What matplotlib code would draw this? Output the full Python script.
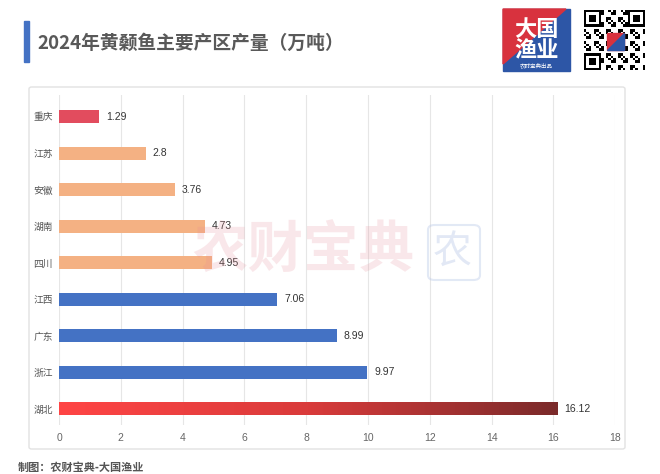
import numpy as np
import matplotlib
matplotlib.use('Agg')
import matplotlib.pyplot as plt
from matplotlib.patches import Rectangle, FancyBboxPatch, Polygon
from matplotlib.colors import LinearSegmentedColormap

plt.rcParams['font.family'] = ['Noto Sans CJK SC', 'DejaVu Sans']

# ---------------- data ----------------
categories = ['湖北', '浙江', '广东', '江西', '四川', '湖南', '安徽', '江苏', '重庆']
values = [16.12, 9.97, 8.99, 7.06, 4.95, 4.73, 3.76, 2.8, 1.29]
value_labels = ['16.12', '9.97', '8.99', '7.06', '4.95', '4.73', '3.76', '2.8', '1.29']
x_ticks = [0, 2, 4, 6, 8, 10, 12, 14, 16, 18]
title = '2024年黄颡鱼主要产区产量（万吨）'
source = '制图：农财宝典-大国渔业'
watermark = '农财宝典'

# ---------------- styles ----------------
RED = '#e24c5e'
ORANGE = '#f4b183'
BLUE = '#4472c4'
bar_colors = ['#ff4545', BLUE, BLUE, BLUE, ORANGE, ORANGE, ORANGE, ORANGE, RED]

W, H = 660, 474
fig = plt.figure(figsize=(6.6, 4.74), dpi=100)
fig.patch.set_facecolor('white')


def fx(px):
    return px / W


def fy(py):
    return 1 - py / H


# chart frame
fig.patches.append(FancyBboxPatch((fx(29), fy(449)), fx(625) - fx(29), fy(87) - fy(449),
                                  boxstyle='round,pad=0,rounding_size=0.004',
                                  transform=fig.transFigure, fc='white', ec='#e2e2e2', lw=1.0, zorder=-5))

# title decoration
fig.patches.append(Rectangle((fx(24), fy(62)), fx(5), 41 / H, transform=fig.transFigure,
                             color=BLUE, zorder=1))
fig.text(fx(37), fy(43), title, fontsize=13.5, fontweight='bold', color='#595959', va='center', ha='left')

# ---------------- main axes ----------------
ax = fig.add_axes([fx(59), fy(425), (615.3 - 59) / W, (425 - 95) / H])
ax.set_zorder(1)
ax.set_facecolor('none')
ypos = np.arange(len(categories))
bars = ax.barh(ypos, values, height=0.356, color=bar_colors, zorder=3)

# gradient bar for the top producer
b = bars[0]
b.set_facecolor('none')
b.set_edgecolor('none')
cmap = LinearSegmentedColormap.from_list('g', ['#ff4545', '#d93b3b', '#7a2a2a'])
grad = np.linspace(0, 1, 256).reshape(1, -1)
x0, y0 = b.get_x(), b.get_y()
im = ax.imshow(grad, extent=(x0, x0 + b.get_width(), y0, y0 + b.get_height()),
               cmap=cmap, aspect='auto', zorder=3)
im.set_clip_path(b)

for i, (v, lab) in enumerate(zip(values, value_labels)):
    ax.annotate(lab, xy=(v, i), xytext=(5, 0), textcoords='offset points',
                va='center', ha='left', fontsize=7.5, color='#333333',
                family=['Liberation Sans', 'DejaVu Sans'])

ax.set_xlim(0, 18)
ax.set_ylim(-0.45, 8.59)
ax.set_xticks(x_ticks)
ax.set_xticklabels([str(t) for t in x_ticks], family=['Liberation Sans', 'DejaVu Sans'])
ax.set_yticks(ypos)
ax.set_yticklabels(categories)
ax.tick_params(axis='x', length=0, pad=6, labelsize=7.5, labelcolor='#666666')
ax.tick_params(axis='y', length=0, pad=4.5, labelsize=7, labelcolor='#555555')
ax.grid(axis='x', color='#e6e6e6', lw=0.8, zorder=0)
ax.set_axisbelow(True)
for s in ax.spines.values():
    s.set_visible(False)

# ---------------- watermark ----------------
fig.text(fx(303), fy(252), watermark, fontsize=40, fontweight='bold', color='#e58a96',
         alpha=0.2, ha='center', va='center', zorder=10)
fig.patches.append(FancyBboxPatch((fx(428), fy(280)), fx(52), 55 / H,
                                  boxstyle='round,pad=0,rounding_size=0.01',
                                  transform=fig.transFigure, fc='none', ec='#b8c8e8',
                                  lw=1.5, alpha=0.4, zorder=10))
fig.text(fx(452), fy(252), '农', fontsize=28, color='#9fb4de', alpha=0.3,
         ha='center', va='center', zorder=10)

# ---------------- logo ----------------
lx0, lx1, ly0, ly1 = 503, 570, 9, 71
fig.patches.append(Rectangle((fx(lx0), fy(ly1)), fx(lx1 - lx0), (ly1 - ly0) / H,
                             transform=fig.transFigure, color='#2d56a6', zorder=2))
fig.patches.append(Polygon([(fx(lx0), fy(ly0)), (fx(566), fy(ly0)), (fx(lx0), fy(64))],
                           closed=True, transform=fig.transFigure, color='#d8323e', zorder=2))
fig.text(fx(536.5), fy(29), '大国', fontsize=16, fontweight='bold', color='white',
         ha='center', va='center', zorder=3)
fig.text(fx(536.5), fy(51), '渔业', fontsize=16, fontweight='bold', color='white',
         ha='center', va='center', zorder=3)
fig.text(fx(536.5), fy(65), '农财宝典出品', fontsize=4, color='white',
         ha='center', va='center', zorder=3)

# ---------------- QR-like badge ----------------
qax = fig.add_axes([fx(583), fy(70), fx(63), 60 / H])
n = 25
ii, jj = np.meshgrid(np.arange(n), np.arange(n), indexing='ij')
M = (((ii * 7 + jj * 13 + ii * jj) % 5) < 2).astype(float)
for (r, c) in [(0, 0), (0, n - 7), (n - 7, 0)]:
    M[r:r + 7, c:c + 7] = 1
    M[r + 1:r + 6, c + 1:c + 6] = 0
    M[r + 2:r + 5, c + 2:c + 5] = 1
qax.imshow(1 - M, cmap='gray', interpolation='nearest', vmin=0, vmax=1)
qax.add_patch(Rectangle((9, 9), 7, 7, color='#d8323e'))
qax.add_patch(Polygon([(16, 9), (16, 16), (9, 16)], closed=True, color='#2d56a6'))
qax.axis('off')

# ---------------- footer ----------------
fig.text(fx(18), fy(467), source, fontsize=8, fontweight='bold', color='#555555',
         va='center', ha='left')

fig.savefig('out.png', dpi=100)
